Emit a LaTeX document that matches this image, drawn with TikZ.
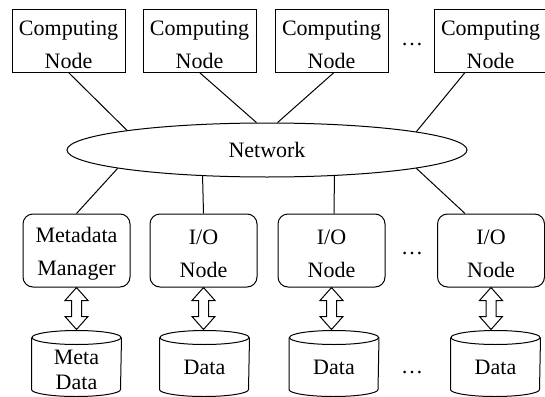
\documentclass[tikz,border=0pt]{standalone}
\usepackage{fontspec}
\setmainfont{Liberation Serif}
\usetikzlibrary{shapes.geometric,calc}
\tikzset{
  every picture/.style={line width=1pt},
  txt/.style={font=\fontsize{22}{33}\selectfont, align=center, inner sep=0pt},
  cbox/.style={draw, minimum width=113pt, minimum height=62pt, inner sep=0pt},
  iobox/.style={draw, rounded corners=10pt, minimum width=107pt, minimum height=73pt, inner sep=0pt},
  cylbox/.style={minimum width=89pt, minimum height=65pt, inner sep=0pt},
  cyltxt/.style={txt, font=\fontsize{22}{25}\selectfont},
  dots/.style={txt},
  arr/.style={draw, line width=1pt, line join=miter}
}
\newcommand\cylinderat[1]{%
  \draw ($(#1.north west)+(0,7)$) -- ($(#1.south west)+(0,-7)$)
     arc[start angle=180, end angle=0, x radius=44.5, y radius=7]
     -- ($(#1.north east)+(0,7)$);
  \draw ($(#1.north)+(0,7)$) ellipse[x radius=44.5, y radius=7];}
\newcommand\dblarrow[1]{%
  \draw[arr] (#1) -- ++(11.5,13) -- ++(-6.5,0) -- ++(0,16) -- ++(6.5,0)
     -- ++(-11.5,13) -- ++(-11.5,-13) -- ++(6.5,0) -- ++(0,-16) -- ++(-6.5,0) -- cycle;}
\begin{document}
\begin{tikzpicture}[x=1pt, y=-1pt]
\useasboundingbox (0,0) rectangle (545,396);
% computing nodes
\node[cbox] (c1) at (68.5,41) {};
\node[cbox] (c2) at (199.5,41) {};
\node[cbox] (c3) at (331.5,41) {};
\node[cbox] (c4) at (490.5,41) {};
\node[txt] (c1t) at ($(c1)+(0,4)$) {Computing\\Node};
\node[txt] (c2t) at ($(c2)+(0,4)$) {Computing\\Node};
\node[txt] (c3t) at ($(c3)+(0,4)$) {Computing\\Node};
\node[txt] (c4t) at ($(c4)+(0,4)$) {Computing\\Node};
\node[dots] (d1) at (412,45) {\fontsize{22}{22}\selectfont\dots};
% network
\node[draw, ellipse, minimum width=400pt, minimum height=54pt, inner sep=0pt,
      font=\fontsize{22}{22}\selectfont] (net) at (267,150) {Network};
% io nodes
\node[iobox] (mm) at (76.5,250.5) {};
\node[iobox] (io1) at (203.5,250.5) {};
\node[iobox] (io2) at (331.5,250.5) {};
\node[iobox] (io3) at (491,250.5) {};
\node[txt] (mmt) at ($(mm)+(0,3)$) {Metadata\\Manager};
\node[txt] (io1t) at ($(io1)+(0,3)$) {I/O\\Node};
\node[txt] (io2t) at ($(io2)+(0,3)$) {I/O\\Node};
\node[txt] (io3t) at ($(io3)+(0,3)$) {I/O\\Node};
\node[dots] (d2) at (412,254) {\fontsize{22}{22}\selectfont\dots};
% data
\node[cylbox] (md) at (76.5,363.5) {};
\node[cylbox] (dt1) at (204.5,363.5) {};
\node[cylbox] (dt2) at (334,363.5) {};
\node[cylbox] (dt3) at (495.5,363.5) {};
\node[cyltxt] (mdt) at ($(md)+(0,6)$) {Meta\\Data};
\node[cyltxt] (dt1t) at ($(dt1)+(0,4)$) {Data};
\node[cyltxt] (dt2t) at ($(dt2)+(0,4)$) {Data};
\node[cyltxt] (dt3t) at ($(dt3)+(0,4)$) {Data};
\node[dots] (d3) at (412,373) {\fontsize{22}{22}\selectfont\dots};
\cylinderat{md}
\cylinderat{dt1}
\cylinderat{dt2}
\cylinderat{dt3}
% connectors
\draw (c1.south) -- (net.172.4);
\draw (c2.south) -- (net.111.4);
\draw ($(c3.south)+(2.5,0)$) -- (net.69.2);
\draw ($(c4.south)+(-25.5,0)$) -- (net.7.2);
\draw (net.187.8) -- (mm.north);
\draw (net.202.1) -- (io1.north);
\draw (net.339.2) -- ($(io2.north)+(2.5,0)$);
\draw (net.353.7) -- ($(io3.north)+(-26,0)$);
% double arrows
\dblarrow{mm.south}
\dblarrow{io1.south}
\dblarrow{io2.south}
\dblarrow{io3.south}
\end{tikzpicture}
\end{document}
